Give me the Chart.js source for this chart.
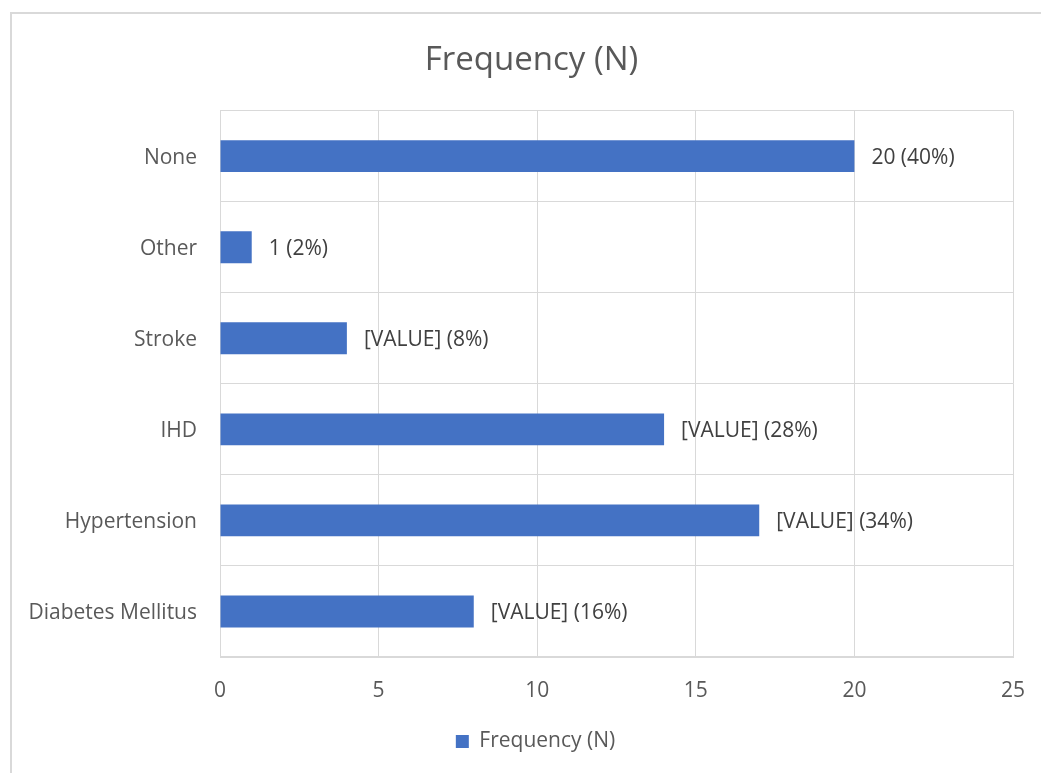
<!DOCTYPE html>
<html>
<head>
<meta charset="utf-8">
<script src="https://cdn.jsdelivr.net/npm/chart.js@4/dist/chart.umd.min.js"></script>
<style>
  html, body { margin: 0; padding: 0; background: #ffffff; }
  #wrap { position: relative; width: 1041px; height: 773px; }
  canvas { display: block; }
</style>
</head>
<body>
<div id="wrap"><canvas id="chart" width="1041" height="773"></canvas></div>
<script>
// Comorbidity categories, listed top to bottom
const categories = ['None', 'Other', 'Stroke', 'IHD', 'Hypertension', 'Diabetes Mellitus'];
// Frequency (N) per category
const frequency = [20, 1, 4, 14, 17, 8];
// Text shown beside each bar
const barLabels = ['20 (40%)', '1 (2%)', '[VALUE] (8%)', '[VALUE] (28%)', '[VALUE] (34%)', '[VALUE] (16%)'];
// Value axis ticks
const axisTicks = [0, 5, 10, 15, 20, 25];

const FONT = '"Open Sans", Lato, sans-serif';
const TEXT = '#595959';
const GRID = '#d9d9d9';
const BAR = '#4472c4';

// Frame around the whole chart (left and top edges are visible; the frame
// continues past the right and bottom of the canvas)
const framePlugin = {
  id: 'frame',
  beforeDraw(chart) {
    const ctx = chart.ctx;
    ctx.save();
    ctx.fillStyle = '#ffffff';
    ctx.fillRect(0, 0, chart.width, chart.height);
    ctx.strokeStyle = GRID;
    ctx.lineWidth = 2;
    ctx.beginPath();
    ctx.moveTo(11, chart.height);
    ctx.lineTo(11, 13);
    ctx.lineTo(chart.width, 13);
    ctx.stroke();
    ctx.restore();
  }
};

// The frame is wider than the canvas, so title and legend sit centred on the
// full frame rather than on the visible part: nudge their boxes to the right.
const centreOnFramePlugin = {
  id: 'centreOnFrame',
  afterLayout(chart) {
    const t = chart.titleBlock;
    if (t) { t.left += 19; t.right += 19; }
    const l = chart.legend;
    if (l) { l.left += 23; l.right += 23; }
  }
};

// Text labels to the right of each bar
const barLabelPlugin = {
  id: 'barLabels',
  afterDatasetsDraw(chart) {
    const ctx = chart.ctx;
    const meta = chart.getDatasetMeta(0);
    ctx.save();
    ctx.font = '21px ' + FONT;
    ctx.fillStyle = '#404040';
    ctx.textAlign = 'left';
    ctx.textBaseline = 'middle';
    meta.data.forEach((bar, i) => {
      ctx.fillText(barLabels[i], bar.x + 17, bar.y + 2);
    });
    ctx.restore();
  }
};

new Chart(document.getElementById('chart'), {
  type: 'bar',
  data: {
    labels: categories,
    datasets: [{
      label: 'Frequency (N)',
      data: frequency,
      backgroundColor: BAR,
      borderWidth: 0,
      categoryPercentage: 1.0,
      barPercentage: 0.35
    }]
  },
  options: {
    indexAxis: 'y',
    responsive: false,
    animation: false,
    layout: { padding: { left: 12, right: 28, top: 0, bottom: 11 } },
    plugins: {
      title: {
        display: true,
        text: 'Frequency (N)',
        color: TEXT,
        font: { family: FONT, size: 33, weight: 'normal' },
        padding: { top: 41, bottom: 30 }
      },
      legend: {
        position: 'bottom',
        labels: {
          color: TEXT,
          font: { family: FONT, size: 21 },
          boxWidth: 13,
          boxHeight: 13,
          padding: 10
        }
      },
      tooltip: { enabled: false }
    },
    scales: {
      x: {
        min: 0,
        max: 25,
        afterBuildTicks(scale) {
          scale.ticks = axisTicks.map(v => ({ value: v }));
        },
        afterFit(scale) {
          scale.height = 64;
          scale.paddingLeft = 0;
          scale.paddingRight = 0;
        },
        grid: { color: GRID, lineWidth: 1, drawTicks: false },
        border: { color: GRID, width: 1 },
        ticks: { color: TEXT, font: { family: FONT, size: 21 }, padding: 21 }
      },
      y: {
        afterFit(scale) { scale.width = 208; },
        grid: { color: GRID, lineWidth: 1, drawTicks: false, offset: true },
        border: { color: GRID, width: 1 },
        ticks: { color: TEXT, font: { family: FONT, size: 21 }, padding: 23, labelOffset: 2 }
      }
    }
  },
  plugins: [framePlugin, centreOnFramePlugin, barLabelPlugin]
});
</script>
</body>
</html>
